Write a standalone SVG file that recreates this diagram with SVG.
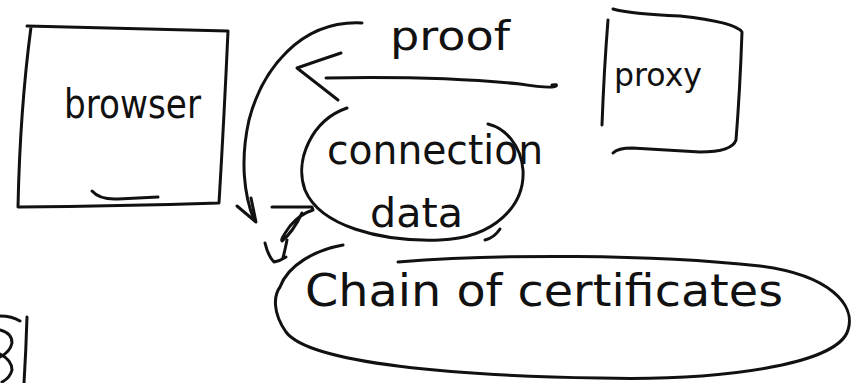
<svg xmlns="http://www.w3.org/2000/svg" width="862" height="383" viewBox="0 0 862 383">
  <style>
    .ink { fill: none; stroke: #111; stroke-width: 3; stroke-linecap: round; stroke-linejoin: round; }
    .hand { font-family: "DejaVu Sans", "Liberation Sans", sans-serif; fill: #111; }
  </style>
  <rect width="862" height="383" fill="#fff"/>

  <!-- browser box -->
  <g id="browser">
    <path class="ink" d="M27,26 L228,31 Q224,120 219,203 Q120,206 18,207 Q20,110 31,27"/>
    <path class="ink" d="M92,191 Q100,200 118,199 L158,197"/>
    <text class="hand" x="64" y="118" font-size="40" textLength="137" lengthAdjust="spacingAndGlyphs">browser</text>
  </g>

  <!-- proxy box -->
  <g id="proxy">
    <path class="ink" d="M613,9 Q630,14 680,16 Q735,22 742,32 Q740,90 736,140 Q732,152 700,152 L632,148 Q618,148 613,153"/>
    <path class="ink" d="M608,20 Q604,70 602,125"/>
    <text class="hand" x="614" y="86" font-size="32" textLength="88" lengthAdjust="spacingAndGlyphs">proxy</text>
  </g>

  <!-- connection data bubble -->
  <g id="connection-data">
    <path class="ink" d="M347,108 C312,120 294,160 305,190 C320,226 380,242 440,240 C495,238 525,205 523,170 C521,145 505,128 488,124"/>
    <path class="ink" d="M485,240 Q494,238 500,229"/>
    <text class="hand" x="327" y="164" font-size="40" textLength="216" lengthAdjust="spacingAndGlyphs">connection</text>
    <text class="hand" x="370" y="227" font-size="40" textLength="93" lengthAdjust="spacingAndGlyphs">data</text>
  </g>

  <!-- chain of certificates bubble -->
  <g id="chain">
    <path class="ink" d="M398,262 C500,254 650,254 760,266 C830,275 856,305 848,330 C838,365 720,381 600,378 C460,376 310,364 286,332 C272,312 274,295 280,287 C288,265 315,250 343,245"/>
    <text class="hand" x="305" y="306" font-size="44" textLength="478" lengthAdjust="spacingAndGlyphs">Chain of certificates</text>
  </g>

  <!-- connectors -->
  <g id="connectors">
    <!-- proof: proxy to browser -->
    <path class="ink" d="M326,78 Q440,76 520,84 Q552,89 556,86 Q558,84 552,85"/>
    <path class="ink" d="M341,53 Q320,60 297,68 L338,100"/>
    <text class="hand" x="390" y="50" font-size="40" textLength="120" lengthAdjust="spacingAndGlyphs">proof</text>
    <!-- curved arrow down toward the chain -->
    <path class="ink" d="M362,23 C300,20 262,70 249,120 C240,160 244,195 254,220"/>
    <path class="ink" d="M237,206 L256,222 L251,198"/>
    <!-- small hook arrow between the bubbles -->
    <path class="ink" d="M272,207 L312,207 L313,210 Q300,214 290,226 Q280,240 282,241 Q293,232 302,213"/>
    <path class="ink" d="M287,240 Q285,250 283,258"/>
    <path class="ink" d="M265,243 Q268,256 274,262 Q280,261 286,257"/>
  </g>

  <!-- stroke fragment at the lower left edge -->
  <g id="edge-fragment">
    <path class="ink" d="M0,316 Q12,316 20,321"/>
    <path class="ink" d="M0,330 Q12,333 12,343 Q10,352 0,357"/>
    <path class="ink" d="M0,354 Q12,360 12,370 Q10,378 2,382"/>
    <path class="ink" d="M27,317 Q26,350 24,383"/>
  </g>
</svg>
